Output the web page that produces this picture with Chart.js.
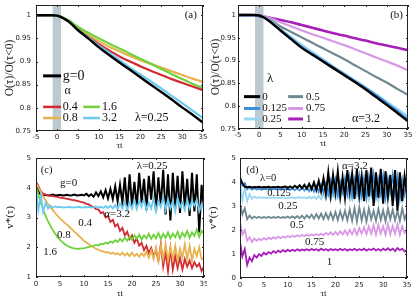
<!DOCTYPE html>
<html>
<head>
<meta charset="utf-8">
<script src="https://cdn.jsdelivr.net/npm/chart.js@4.4.0/dist/chart.umd.min.js"></script>
<style>
  html, body { margin: 0; padding: 0; background: #fff; }
  #wrap { position: relative; width: 416px; height: 302px; overflow: hidden; }
  canvas { position: absolute; }
</style>
</head>
<body>
<div id="wrap">
  <canvas id="chartA" width="207" height="152" style="left:0;top:0"></canvas>
  <canvas id="chartB" width="209" height="152" style="left:207px;top:0"></canvas>
  <canvas id="chartC" width="207" height="150" style="left:0;top:152px"></canvas>
  <canvas id="chartD" width="209" height="150" style="left:207px;top:152px"></canvas>
</div>
<script>
// --- panel (a)/(b): O(tau)/O(tau<0) ---
const tauAB = [-5, -2, -1, 0, 1, 2, 3, 5, 7.5, 10, 12.5, 15, 17.5, 20, 22.5, 25, 27.5, 30, 32.5, 35];

const aG0  = [1, 1, 1, 0.999, 0.996, 0.991, 0.985, 0.968, 0.950, 0.931, 0.914, 0.898, 0.882, 0.866, 0.850, 0.834, 0.818, 0.801, 0.785, 0.768];
const a04  = [1, 1, 1, 0.999, 0.996, 0.991, 0.985, 0.969, 0.953, 0.938, 0.924, 0.911, 0.900, 0.890, 0.880, 0.871, 0.862, 0.854, 0.846, 0.838];
const a08  = [1, 1, 1, 0.999, 0.996, 0.992, 0.987, 0.972, 0.957, 0.944, 0.932, 0.922, 0.912, 0.903, 0.895, 0.887, 0.879, 0.871, 0.863, 0.856];
const a16  = [1, 1, 1, 0.999, 0.997, 0.993, 0.988, 0.975, 0.962, 0.950, 0.939, 0.928, 0.917, 0.906, 0.895, 0.884, 0.873, 0.862, 0.852, 0.842];
const a32  = [1, 1, 1, 0.999, 0.996, 0.991, 0.985, 0.969, 0.952, 0.935, 0.919, 0.903, 0.887, 0.872, 0.857, 0.842, 0.826, 0.810, 0.794, 0.778];

const b0    = [1, 1, 1, 0.999, 0.995, 0.989, 0.982, 0.966, 0.947, 0.928, 0.913, 0.898, 0.883, 0.868, 0.853, 0.837, 0.820, 0.803, 0.785, 0.767];
const b0125 = [1, 1, 1, 0.999, 0.995, 0.989, 0.983, 0.967, 0.949, 0.930, 0.915, 0.900, 0.885, 0.870, 0.855, 0.840, 0.824, 0.807, 0.789, 0.771];
const b025  = a32;
const b05   = [1, 1, 1, 0.999, 0.996, 0.992, 0.987, 0.975, 0.963, 0.951, 0.939, 0.927, 0.915, 0.903, 0.890, 0.877, 0.864, 0.852, 0.838, 0.825];
const b075  = [1, 1, 1, 0.9995, 0.998, 0.995, 0.992, 0.984, 0.975, 0.966, 0.958, 0.950, 0.942, 0.934, 0.925, 0.916, 0.907, 0.898, 0.889, 0.879];
const b1    = [1, 1, 0.9995, 0.998, 0.997, 0.995, 0.993, 0.989, 0.984, 0.978, 0.972, 0.966, 0.960, 0.955, 0.949, 0.944, 0.938, 0.933, 0.928, 0.923];

const yTicksAB = [0.75, 0.8, 0.85, 0.9, 0.95, 1];

// --- panel (c)/(d): v*(tau), sampled every 0.5 tau from 0 to 35 ---
const tauCD = Array.from({length: 71}, (_, i) => i * 0.5);

const cG0 = [4.10, 3.90, 3.76, 3.74, 3.76, 3.74, 3.75, 3.77, 3.74, 3.75,
             3.76, 3.74, 3.75, 3.76, 3.74, 3.75, 3.77, 3.74, 3.75, 3.76,
             3.74, 3.80, 3.72, 3.78, 3.70, 3.84, 3.72, 3.88, 3.68, 3.92,
             3.64, 3.96, 3.62, 4.05, 3.55, 4.10, 3.50, 4.35, 3.30, 4.45,
             3.40, 4.20, 3.35, 4.50, 3.50, 4.30, 3.25, 4.40, 3.60, 4.55,
             3.20, 4.35, 3.40, 4.60, 3.10, 4.45, 2.90, 4.50, 3.30, 4.40,
             3.15, 4.55, 3.35, 4.30, 3.05, 4.50, 3.20, 4.45, 2.50, 4.10,
             3.30];
const c04 = [4.20, 4.05, 3.88, 3.80, 3.77, 3.75, 3.73, 3.72, 3.70, 3.69,
             3.67, 3.66, 3.64, 3.63, 3.61, 3.59, 3.58, 3.56, 3.54, 3.52,
             3.50, 3.46, 3.44, 3.38, 3.36, 3.28, 3.27, 3.15, 3.18, 3.00,
             3.05, 2.85, 2.92, 2.70, 2.78, 2.55, 2.65, 2.40, 2.52, 2.28,
             2.40, 2.15, 2.30, 2.05, 2.15, 1.90, 2.05, 1.80, 1.98, 1.70,
             1.90, 1.55, 2.10, 1.35, 1.85, 1.20, 1.95, 1.25, 1.70, 1.30,
             1.65, 1.25, 1.60, 1.35, 1.55, 1.30, 1.50, 1.35, 1.45, 1.20,
             1.35];
const c08 = [4.15, 4.00, 3.85, 3.70, 3.58, 3.45, 3.35, 3.25, 3.15, 3.05,
             2.97, 2.90, 2.82, 2.75, 2.68, 2.60, 2.52, 2.45, 2.37, 2.30,
             2.22, 2.16, 2.10, 2.04, 2.00, 1.95, 1.92, 1.88, 1.86, 1.82,
             1.84, 1.78, 1.82, 1.76, 1.80, 1.74, 1.82, 1.72, 1.80, 1.70,
             1.82, 1.70, 1.78, 1.68, 1.80, 1.70, 1.85, 1.65, 1.90, 1.60,
             2.00, 1.55, 2.05, 1.60, 2.10, 1.55, 2.00, 1.60, 2.05, 1.55,
             1.95, 1.65, 2.10, 1.60, 2.05, 1.55, 1.95, 1.70, 2.00, 1.60,
             1.65];
const c16 = [4.05, 3.75, 3.50, 3.25, 3.05, 2.88, 2.72, 2.58, 2.45, 2.34,
             2.25, 2.17, 2.10, 2.05, 2.01, 1.98, 1.96, 1.95, 1.95, 1.96,
             1.97, 1.99, 2.01, 2.03, 2.05, 2.08, 2.06, 2.12, 2.10, 2.16,
             2.12, 2.20, 2.15, 2.24, 2.18, 2.28, 2.20, 2.32, 2.22, 2.36,
             2.25, 2.40, 2.28, 2.42, 2.26, 2.40, 2.30, 2.45, 2.28, 2.42,
             2.30, 2.48, 2.28, 2.45, 2.32, 2.50, 2.30, 2.46, 2.34, 2.52,
             2.30, 2.48, 2.36, 2.55, 2.32, 2.50, 2.38, 2.60, 2.35, 2.55,
             2.45];
const c32 = [3.95, 3.25, 3.75, 3.20, 3.50, 3.30, 3.40, 3.33, 3.37, 3.34,
             3.36, 3.33, 3.35, 3.34, 3.36, 3.33, 3.35, 3.34, 3.36, 3.33,
             3.35, 3.34, 3.36, 3.33, 3.35, 3.37, 3.33, 3.36, 3.32, 3.38,
             3.32, 3.40, 3.30, 3.42, 3.28, 3.48, 3.30, 3.55, 3.25, 3.50,
             3.30, 3.60, 3.28, 3.55, 3.35, 3.62, 3.25, 3.50, 3.30, 3.65,
             3.20, 3.55, 3.35, 3.70, 3.25, 3.60, 3.30, 3.55, 3.20, 3.65,
             3.35, 3.50, 3.25, 3.60, 3.30, 3.55, 3.40, 3.60, 3.20, 3.45,
             3.30];

const d0    = [4.15, 3.95, 3.80, 3.78, 3.80, 3.77, 3.79, 3.78, 3.80, 3.77,
               3.79, 3.78, 3.80, 3.77, 3.79, 3.78, 3.80, 3.77, 3.79, 3.81,
               3.76, 3.82, 3.75, 3.84, 3.76, 3.86, 3.74, 3.88, 3.72, 3.92,
               3.70, 3.98, 3.66, 4.05, 3.60, 4.15, 3.50, 4.40, 3.45, 4.30,
               3.55, 4.45, 3.40, 4.20, 3.35, 4.50, 3.60, 4.35, 3.30, 4.55,
               3.45, 4.25, 3.20, 4.50, 3.40, 4.60, 3.00, 4.40, 3.35, 4.55,
               3.10, 4.45, 3.40, 4.30, 3.00, 4.50, 2.80, 4.40, 3.20, 4.25,
               3.50];
const d0125 = [4.25, 3.85, 3.95, 3.70, 3.78, 3.68, 3.74, 3.69, 3.72, 3.68,
               3.71, 3.69, 3.72, 3.68, 3.71, 3.69, 3.72, 3.68, 3.71, 3.69,
               3.72, 3.67, 3.73, 3.66, 3.74, 3.65, 3.76, 3.64, 3.78, 3.62,
               3.80, 3.60, 3.84, 3.58, 3.90, 3.55, 3.95, 3.50, 4.05, 3.55,
               4.10, 3.45, 4.00, 3.60, 4.15, 3.50, 4.20, 3.40, 4.10, 3.55,
               4.25, 3.45, 4.15, 3.35, 4.20, 3.55, 4.30, 3.40, 4.10, 3.50,
               4.25, 3.35, 4.15, 3.60, 4.30, 3.45, 4.20, 3.30, 4.10, 3.50,
               3.85];
const d025  = c32;
const d05   = [3.10, 2.65, 2.90, 2.45, 2.60, 2.48, 2.56, 2.50, 2.55, 2.50,
               2.54, 2.51, 2.55, 2.50, 2.54, 2.51, 2.55, 2.50, 2.54, 2.51,
               2.56, 2.50, 2.57, 2.50, 2.58, 2.49, 2.60, 2.48, 2.62, 2.50,
               2.64, 2.47, 2.66, 2.48, 2.68, 2.45, 2.70, 2.46, 2.72, 2.44,
               2.75, 2.42, 2.78, 2.45, 2.80, 2.40, 2.85, 2.38, 2.92, 2.35,
               2.95, 2.40, 2.85, 2.35, 2.90, 2.45, 2.80, 2.38, 2.88, 2.42,
               2.82, 2.36, 2.90, 2.45, 2.85, 2.40, 2.80, 2.38, 2.90, 2.45,
               2.70];
const d075  = [2.30, 1.80, 2.00, 1.55, 1.70, 1.50, 1.65, 1.55, 1.63, 1.58,
               1.66, 1.60, 1.68, 1.62, 1.70, 1.64, 1.72, 1.66, 1.73, 1.68,
               1.75, 1.70, 1.76, 1.72, 1.78, 1.73, 1.79, 1.75, 1.80, 1.76,
               1.82, 1.77, 1.83, 1.78, 1.85, 1.78, 1.88, 1.80, 1.90, 1.80,
               1.92, 1.80, 1.95, 1.82, 1.98, 1.80, 2.00, 1.82, 2.05, 1.80,
               2.08, 1.85, 2.12, 1.82, 2.15, 1.85, 2.20, 1.80, 2.22, 1.85,
               2.15, 1.80, 2.25, 1.82, 2.18, 1.85, 2.25, 1.80, 2.15, 1.88,
               2.00];
const d1    = [1.50, 0.90, 1.20, 0.55, 0.85, 0.70, 0.95, 0.85, 1.00, 0.92,
               1.05, 0.98, 1.08, 1.02, 1.12, 1.05, 1.14, 1.08, 1.16, 1.10,
               1.17, 1.12, 1.18, 1.13, 1.20, 1.14, 1.19, 1.15, 1.20, 1.15,
               1.21, 1.16, 1.20, 1.14, 1.22, 1.16, 1.20, 1.14, 1.21, 1.16,
               1.20, 1.15, 1.22, 1.16, 1.21, 1.14, 1.20, 1.16, 1.22, 1.15,
               1.20, 1.16, 1.22, 1.14, 1.20, 1.17, 1.23, 1.15, 1.21, 1.14,
               1.22, 1.16, 1.24, 1.15, 1.22, 1.12, 1.25, 1.16, 1.22, 1.10,
               1.18];

// colours
const C = {
  black: '#000000', red: '#d22b33', orange: '#e9b24f', green: '#6fd23c', cyan: '#6ccaee',
  blue: '#3d8fe0', light: '#98d7f2', gray: '#6f8790', violet: '#d898e6', purple: '#a51fb8',
  band: '#bdc9d1'
};

const serif = 'Liberation Serif, Times New Roman, serif';
const tickFont = { family: 'DejaVu Sans, sans-serif', size: 7 };

// frame, inner ticks, shaded band, in-plot labels and legend swatches
const framePlugin = {
  id: 'frame',
  beforeDatasetsDraw(chart, args, opts) {
    if (!opts.band) return;
    const { ctx, chartArea: a, scales: { x } } = chart;
    const x1 = x.getPixelForValue(opts.band[0]);
    const x2 = x.getPixelForValue(opts.band[1]);
    ctx.save();
    ctx.fillStyle = C.band;
    ctx.fillRect(x1, a.top, x2 - x1, a.bottom - a.top);
    ctx.restore();
  },
  afterDraw(chart, args, opts) {
    const { ctx, chartArea: a, scales: { x, y } } = chart;
    ctx.save();
    ctx.strokeStyle = '#222';
    ctx.lineWidth = 1;
    ctx.strokeRect(Math.round(a.left) + 0.5, Math.round(a.top) + 0.5,
                   Math.round(a.right - a.left) - 1, Math.round(a.bottom - a.top) - 1);
    ctx.beginPath();
    x.ticks.forEach(t => {
      const px = Math.round(x.getPixelForValue(t.value)) + 0.5;
      ctx.moveTo(px, a.bottom); ctx.lineTo(px, a.bottom - 2);
      ctx.moveTo(px, a.top); ctx.lineTo(px, a.top + 2);
    });
    y.ticks.forEach(t => {
      const py = Math.round(y.getPixelForValue(t.value)) + 0.5;
      ctx.moveTo(a.left, py); ctx.lineTo(a.left + 2, py);
      ctx.moveTo(a.right, py); ctx.lineTo(a.right - 2, py);
    });
    ctx.stroke();

    (opts.swatches || []).forEach(s => {
      ctx.beginPath();
      ctx.strokeStyle = s.color;
      ctx.lineWidth = s.width || 2.5;
      const py = y.getPixelForValue(s.y);
      ctx.moveTo(x.getPixelForValue(s.x1), py);
      ctx.lineTo(x.getPixelForValue(s.x2), py);
      ctx.stroke();
    });
    ctx.fillStyle = '#111';
    ctx.textAlign = 'left';
    ctx.textBaseline = 'middle';
    (opts.labels || []).forEach(l => {
      ctx.font = (l.size || 11) + 'px ' + serif;
      ctx.fillText(l.text, x.getPixelForValue(l.x), y.getPixelForValue(l.y));
    });
    ctx.restore();
  }
};

function pts(xs, ys) {
  return xs.map((x, i) => ({ x: x, y: ys[i] }));
}

function series(label, xs, ys, color, width, smooth) {
  return {
    label: label, data: pts(xs, ys), borderColor: color, borderWidth: width,
    pointRadius: 0, fill: false, tension: 0,
    cubicInterpolationMode: smooth ? 'monotone' : 'default'
  };
}

function scales(o) {
  return {
    x: {
      type: 'linear', min: o.xmin, max: 35,
      grid: { display: false, drawTicks: false }, border: { display: false },
      ticks: { stepSize: 5, padding: o.xtp, color: '#222', font: tickFont, maxRotation: 0, autoSkip: false, includeBounds: false },
      title: { display: true, text: 'τt', color: '#111', font: { family: serif, size: 9 }, padding: { top: 0, bottom: o.xTitlePad } },
      afterFit: s => { s.height = o.xh; s.paddingLeft = 0; s.paddingRight = 0; }
    },
    y: {
      type: 'linear', min: o.ymin, max: o.ymax,
      afterBuildTicks: s => { s.ticks = o.yticks.map(v => ({ value: v })); },
      grid: { display: false, drawTicks: false }, border: { display: false },
      ticks: { padding: o.ytp, color: '#222', font: tickFont, callback: v => String(+v.toFixed(2)) },
      title: { display: true, text: o.ytitle, color: '#111', font: { family: serif, size: o.ytSize }, padding: { top: o.yTitlePad, bottom: 0 } },
      afterFit: s => { s.width = o.yw; s.paddingTop = 0; s.paddingBottom = 0; }
    }
  };
}

function makeChart(id, datasets, sc, padding, frameOpts) {
  return new Chart(document.getElementById(id), {
    type: 'line',
    data: { datasets: datasets },
    options: {
      responsive: false, animation: false,
      layout: { padding: padding },
      scales: sc,
      plugins: { legend: { display: false }, tooltip: { enabled: false }, frame: frameOpts }
    },
    plugins: [framePlugin]
  });
}

// (a)
makeChart('chartA', [
  series('g=0', tauAB, aG0, C.black, 2.4, true),
  series('3.2', tauAB, a32, C.cyan, 2.2, true),
  series('0.4', tauAB, a04, C.red, 2.2, true),
  series('1.6', tauAB, a16, C.green, 2.2, true),
  series('0.8', tauAB, a08, C.orange, 2.2, true)
], scales({ xmin: -5, ymin: 0.75, ymax: 1.022, yticks: yTicksAB, ytitle: 'O(τ)/O(τ<0)', ytSize: 11.5,
            yw: 36, xh: 21, xtp: 2, ytp: 5, xTitlePad: 1, yTitlePad: 3 }),
{ top: 5, right: 4, left: 0, bottom: 0 },
{
  band: [-1, 1],
  swatches: [
    { x1: -3.3, x2: 1.0, y: 0.869, color: C.black, width: 3 },
    { x1: -3.3, x2: 1.0, y: 0.802, color: C.red },
    { x1: 6.3, x2: 10.3, y: 0.802, color: C.green },
    { x1: -3.3, x2: 1.0, y: 0.778, color: C.orange },
    { x1: 6.3, x2: 10.3, y: 0.778, color: C.cyan }
  ],
  labels: [
    { text: '(a)', x: 30.6, y: 1.0, size: 11 },
    { text: 'g=0', x: 1.4, y: 0.869, size: 14 },
    { text: 'α', x: 1.8, y: 0.836, size: 12 },
    { text: '0.4', x: 1.4, y: 0.802, size: 12 },
    { text: '1.6', x: 10.8, y: 0.802, size: 12 },
    { text: '0.8', x: 1.4, y: 0.778, size: 12 },
    { text: '3.2', x: 10.8, y: 0.778, size: 12 },
    { text: 'λ=0.25', x: 18.7, y: 0.778, size: 12 }
  ]
});

// (b)
makeChart('chartB', [
  series('0', tauAB, b0, C.black, 2.4, true),
  series('0.125', tauAB, b0125, C.blue, 2.2, true),
  series('0.25', tauAB, b025, C.light, 2.2, true),
  series('0.5', tauAB, b05, C.gray, 2.2, true),
  series('0.75', tauAB, b075, C.violet, 2.2, true),
  series('1', tauAB, b1, C.purple, 2.6, true)
], scales({ xmin: -5, ymin: 0.75, ymax: 1.022, yticks: yTicksAB, ytitle: 'O(τ)/O(τ<0)', ytSize: 11.5,
            yw: 31, xh: 23, xtp: 2, ytp: 2, xTitlePad: 3, yTitlePad: 2 }),
{ top: 5, right: 8, left: 0, bottom: 0 },
{
  band: [-1, 1],
  swatches: [
    { x1: -3.6, x2: 0.2, y: 0.821, color: C.black, width: 3 },
    { x1: 6.8, x2: 10.3, y: 0.821, color: C.gray, width: 3 },
    { x1: -3.6, x2: 0.2, y: 0.795, color: C.blue, width: 3 },
    { x1: 6.8, x2: 10.3, y: 0.795, color: C.violet, width: 3 },
    { x1: -3.6, x2: 0.2, y: 0.772, color: C.light, width: 3 },
    { x1: 6.8, x2: 10.3, y: 0.772, color: C.purple, width: 3 }
  ],
  labels: [
    { text: '(b)', x: 30.8, y: 1.0, size: 11 },
    { text: 'λ', x: 1.8, y: 0.860, size: 13 },
    { text: '0', x: 0.7, y: 0.821, size: 11 },
    { text: '0.5', x: 11.0, y: 0.821, size: 11 },
    { text: '0.125', x: 0.7, y: 0.795, size: 11 },
    { text: '0.75', x: 11.0, y: 0.795, size: 11 },
    { text: '0.25', x: 0.7, y: 0.772, size: 11 },
    { text: '1', x: 11.0, y: 0.772, size: 11 },
    { text: 'α=3.2', x: 21.8, y: 0.772, size: 12 }
  ]
});

// (c)
makeChart('chartC', [
  series('3.2', tauCD, c32, C.cyan, 1.8, false),
  series('1.6', tauCD, c16, C.green, 1.8, false),
  series('0.8', tauCD, c08, C.orange, 1.8, false),
  series('0.4', tauCD, c04, C.red, 1.8, false),
  series('g=0', tauCD, cG0, C.black, 2, false)
], scales({ xmin: 0, ymin: 1, ymax: 5, yticks: [1, 2, 3, 4, 5], ytitle: 'v*(τ)', ytSize: 11,
            yw: 36, xh: 25, xtp: 3, ytp: 5, xTitlePad: 3, yTitlePad: 4 }),
{ top: 6, right: 3, left: 0, bottom: 0 },
{
  labels: [
    { text: '(c)', x: 1.0, y: 4.6, size: 10.5 },
    { text: 'g=0', x: 5.0, y: 4.16, size: 11 },
    { text: 'λ=0.25', x: 21.0, y: 4.73, size: 11 },
    { text: 'α=3.2', x: 14.2, y: 3.1, size: 11 },
    { text: '0.4', x: 8.8, y: 2.82, size: 11 },
    { text: '0.8', x: 4.4, y: 2.41, size: 11 },
    { text: '1.6', x: 1.5, y: 1.84, size: 11 }
  ]
});

// (d)
makeChart('chartD', [
  series('0', tauCD, d0, C.black, 2, false),
  series('0.125', tauCD, d0125, C.blue, 1.8, false),
  series('0.25', tauCD, d025, C.light, 1.8, false),
  series('0.5', tauCD, d05, C.gray, 1.8, false),
  series('0.75', tauCD, d075, C.violet, 1.8, false),
  series('1', tauCD, d1, C.purple, 1.8, false)
], scales({ xmin: 0, ymin: 0, ymax: 5, yticks: [0, 1, 2, 3, 4, 5], ytitle: 'v*(τ)', ytSize: 11,
            yw: 33, xh: 24, xtp: 3, ytp: 4, xTitlePad: 3, yTitlePad: 0 }),
{ top: 6, right: 9, left: 0, bottom: 0 },
{
  labels: [
    { text: '(d)', x: 1.3, y: 4.5, size: 10.5 },
    { text: 'λ=0', x: 4.2, y: 4.17, size: 10.5 },
    { text: '0.125', x: 5.7, y: 3.54, size: 10.5 },
    { text: '0.25', x: 8.0, y: 3.0, size: 11 },
    { text: '0.5', x: 10.5, y: 2.21, size: 11 },
    { text: '0.75', x: 13.6, y: 1.5, size: 11 },
    { text: '1', x: 18.2, y: 0.67, size: 11 },
    { text: 'α=3.2', x: 21.4, y: 4.67, size: 11 }
  ]
});
</script>
</body>
</html>
